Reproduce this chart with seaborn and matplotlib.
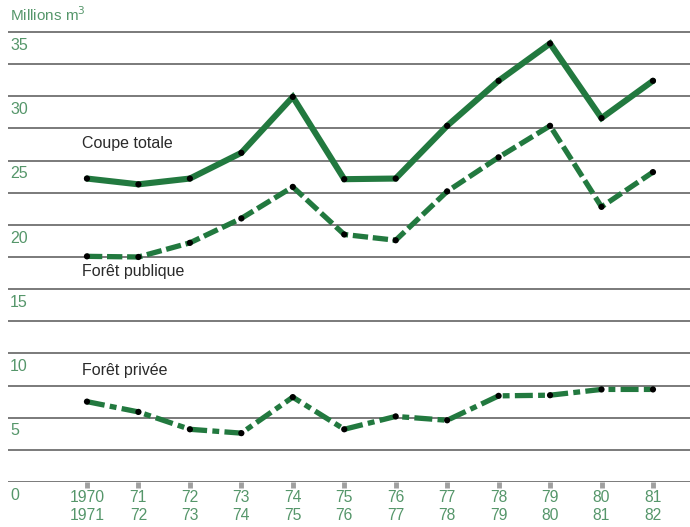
import numpy as np
import pandas as pd
import seaborn as sns
import matplotlib.pyplot as plt
from matplotlib import transforms

# Data (millions m3)
seasons = ["1970\n1971", "71\n72", "72\n73", "73\n74", "74\n75", "75\n76",
           "76\n77", "77\n78", "78\n79", "79\n80", "80\n81", "81\n82"]
coupe_totale = [23.6, 23.15, 23.6, 25.6, 29.95, 23.55, 23.6, 27.7, 31.2, 34.1, 28.3, 31.2]
foret_publique = [17.55, 17.5, 18.6, 20.5, 22.95, 19.25, 18.8, 22.6, 25.25, 27.7, 21.4, 24.1]
foret_privee = [6.25, 5.45, 4.1, 3.8, 6.6, 4.1, 5.1, 4.8, 6.7, 6.75, 7.2, 7.2]
y_labels = [0, 5, 10, 15, 20, 25, 30, 35]

green = "#22793f"
label_green = "#55966a"
grid_grey = "#7a7a7a"

idx = np.arange(len(seasons))
df = pd.DataFrame({"idx": idx, "totale": coupe_totale,
                   "publique": foret_publique, "privee": foret_privee})

sns.set_style("white")
plt.rcParams["font.family"] = ["Liberation Sans", "DejaVu Sans"]

fig = plt.figure(figsize=(6.9, 5.27), dpi=100)
ax = fig.add_axes([8 / 690, 45 / 527, 682 / 690, 462 / 527])

# horizontal rules every 2.5
ax.set_yticks(np.arange(0, 36, 2.5))
ax.yaxis.grid(True, color=grid_grey, lw=1.4)
ax.tick_params(axis="y", length=0, labelleft=False)
ax.set_axisbelow(True)
for s in ax.spines.values():
    s.set_visible(False)

sns.lineplot(data=df, x="idx", y="totale", ax=ax, color=green, lw=4.4,
             solid_joinstyle="miter")
sns.lineplot(data=df, x="idx", y="publique", ax=ax, color=green, lw=3.8,
             linestyle=(0, (2.9, 0.9)))
sns.lineplot(data=df, x="idx", y="privee", ax=ax, color=green, lw=3.8,
             linestyle=(0, (3.4, 1.0, 1.3, 1.0)))
for col in ["totale", "publique", "privee"]:
    sns.scatterplot(data=df, x="idx", y=col, ax=ax, color="black", s=20,
                    edgecolor="none", zorder=5)

ax.set_xlim(-1.535, 11.72)
ax.set_ylim(0, 35.93)
ax.set_xlabel("")
ax.set_ylabel("")

ax.set_xticks(idx)
ax.set_xticklabels(seasons, color=label_green, fontsize=11.3, linespacing=1.25)
ax.tick_params(axis="x", bottom=True, direction="out", length=4, width=3.5,
               color="#a0a0a0", pad=1.5)

# value labels sit just under their rule
trans = transforms.blended_transform_factory(fig.transFigure, ax.transData)
for v in y_labels:
    ax.text(10 / 690, v - 0.45, str(v), transform=trans, ha="left", va="top",
            fontsize=11.5, color=label_green, clip_on=False)

fig.text(10 / 690, 1 - 15 / 527, "Millions m$^3$", ha="left", va="center",
         fontsize=11, color=label_green)

ax.text(-0.1, 26.35, "Coupe totale", ha="left", va="center", fontsize=11.5, color="#2a2a2a")
ax.text(-0.1, 16.35, "Forêt publique", ha="left", va="center", fontsize=11.5, color="#2a2a2a")
ax.text(-0.1, 8.7, "Forêt privée", ha="left", va="center", fontsize=11.5, color="#2a2a2a")

fig.savefig("out.png", dpi=100)
